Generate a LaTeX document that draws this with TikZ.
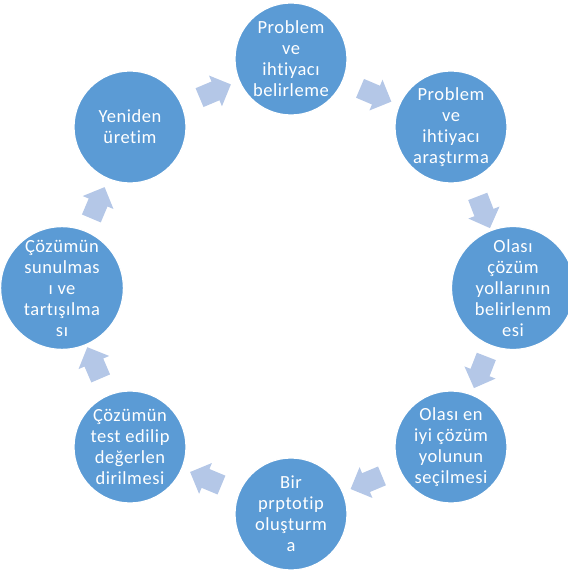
\documentclass[tikz,border=0pt]{standalone}
\usepackage{fontspec}
\setmainfont{Carlito}[LetterSpace=3, Ligatures=NoCommon]
\usetikzlibrary{shapes.arrows, calc}
\definecolor{stepblue}{RGB}{91,155,213}
\definecolor{arrowblue}{RGB}{180,199,231}

\begin{document}
\begin{tikzpicture}[x=1pt, y=1pt,
  stage/.style={circle, fill=stepblue, draw=white, line width=1.2pt, minimum size=112pt,
    inner sep=0pt, align=center, text=white, font=\fontsize{18.5}{21}\selectfont},
  cyclearrow/.style={single arrow, fill=arrowblue, minimum height=34pt,
    inner xsep=0pt, inner ysep=10pt, single arrow head extend=6.5pt}]
  \useasboundingbox (0,0) rectangle (568,574);
  % Stages
  \node[stage] (s1) at (291,515) {Problem\\ve\\ihtiyacı\\belirleme};
  \node[stage] (s2) at (451,447) {Problem\\ve\\ihtiyacı\\araştırma};
  \node[stage] (s3) at (513,286) {Olası\\çözüm\\yollarının\\belirlenm\\esi};
  \node[stage] (s4) at (451,127) {Olası en\\iyi çözüm\\yolunun\\seçilmesi};
  \node[stage] (s5) at (291,60) {Bir\\prptotip\\oluşturm\\a};
  \node[stage] (s6) at (130,127) {Çözümün\\test edilip\\değerlen\\dirilmesi};
  \node[stage] (s7) at (62,286) {Çözümün\\sunulmas\\ı ve\\tartışılma\\sı};
  \node[stage] (s8) at (130,447) {Yeniden\\üretim};

  % Arrows
  \foreach \a/\b in {s1/s2, s2/s3, s3/s4, s4/s5, s5/s6, s6/s7, s7/s8, s8/s1} {
    \path let \p1 = ($(\b)-(\a)$), \n1 = {atan2(\y1,\x1)} in
      node[cyclearrow, rotate=\n1] (\a-\b) at ($(\a)!0.5!(\b)$) {};
  }
\end{tikzpicture}
\end{document}
